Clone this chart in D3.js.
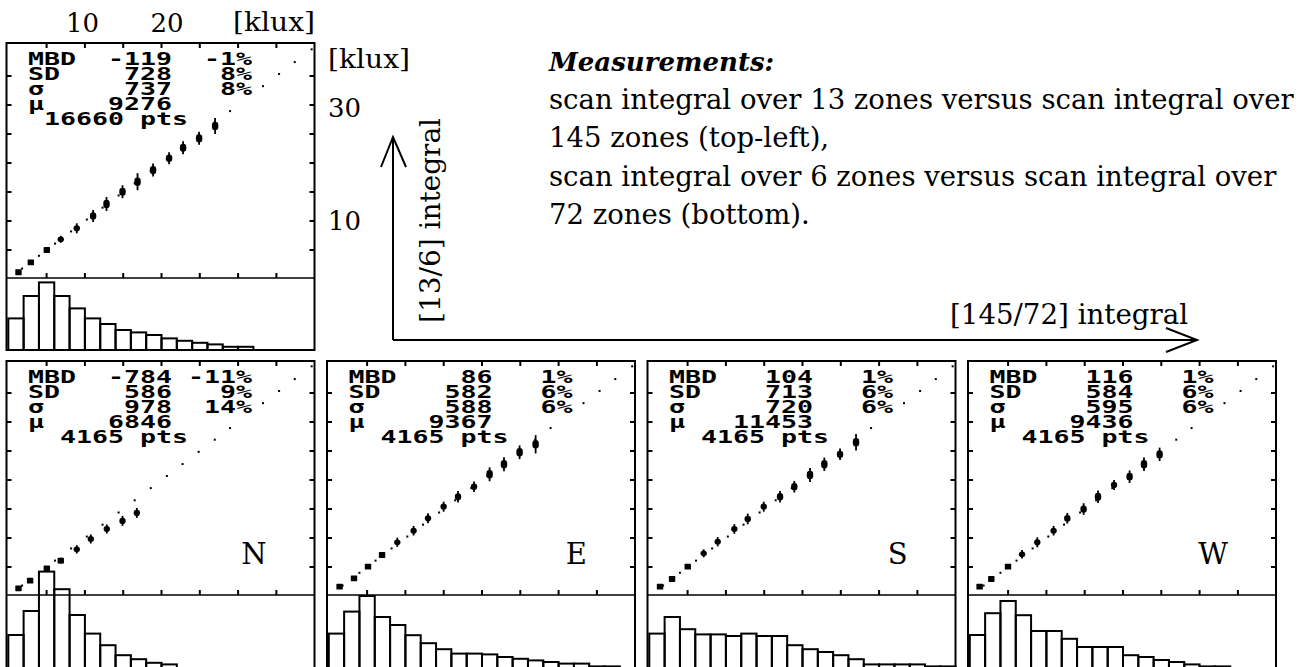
<!DOCTYPE html>
<html><head><meta charset="utf-8">
<script src="https://cdn.jsdelivr.net/npm/d3@7"></script>
<style>body{margin:0;background:#fff;} svg{display:block;}</style>
</head><body>
<svg id="chart" width="1305" height="667"></svg>
<script>
// ---------- data ----------
const panelNames = ["top-left", "N", "E", "S", "W"];
const dirLabels  = ["", "N", "E", "S", "W"];

const mbdVal   = ["-119", "-784", "86", "104", "116"];
const mbdPct   = ["-1%", "-11%", "1%", "1%", "1%"];
const sdVal    = ["728", "586", "582", "713", "584"];
const sdPct    = ["8%", "9%", "6%", "6%", "6%"];
const sigmaVal = ["737", "978", "588", "720", "595"];
const sigmaPct = ["8%", "14%", "6%", "6%", "6%"];
const muVal    = ["9276", "6846", "9367", "11453", "9436"];
const nPts     = ["16660", "4165", "4165", "4165", "4165"];

// binned means (klux): x = mean of [145/72] integral, y = mean of [13/6] integral, err = spread
const meanX = [
  [1.33, 2.94, 5.03, 6.85, 8.94, 11.07, 12.82, 14.91, 16.87, 18.9, 20.99, 22.82, 24.91, 27.0],
  [1.33, 2.85, 5.03, 6.85, 8.94, 10.77, 12.86, 14.91, 16.78],
  [1.41, 3.29, 5.12, 6.95, 8.94, 11.07, 12.95, 14.99, 16.87, 18.96, 20.99, 22.87, 24.91, 27.0],
  [1.4, 2.97, 5.02, 7.1, 8.93, 11.1, 12.85, 14.94, 17.07, 18.93, 20.98, 22.85, 24.9, 26.99],
  [1.28, 2.81, 4.99, 6.82, 8.81, 10.94, 12.73, 14.86, 16.74, 18.83, 20.86, 22.74, 24.78]
];
const meanY = [
  [1.16, 2.88, 5.0, 6.84, 8.74, 10.86, 12.93, 15.05, 16.78, 18.79, 20.81, 22.64, 24.26, 26.38],
  [1.33, 2.64, 4.78, 6.09, 8.05, 9.83, 11.55, 12.95, 14.33],
  [1.6, 3.05, 5.05, 7.07, 9.26, 11.26, 13.4, 15.4, 17.12, 18.84, 20.98, 22.71, 24.78, 26.16],
  [1.6, 2.93, 5.05, 7.36, 9.36, 11.55, 13.28, 15.4, 17.12, 18.84, 20.86, 22.71, 24.43, 26.5],
  [1.6, 2.93, 5.05, 7.19, 9.26, 11.26, 13.4, 15.0, 17.12, 19.14, 20.57, 22.71, 24.43]
];
const errY = [
  [0.47, 0.47, 0.52, 0.6, 0.86, 1.03, 1.2, 1.12, 1.47, 1.12, 1.03, 1.12, 1.12, 1.38],
  [0.47, 0.47, 0.47, 0.52, 0.72, 0.78, 0.78, 0.86, 0.86],
  [0.47, 0.47, 0.47, 0.52, 0.8, 0.83, 0.86, 0.86, 0.98, 0.92, 1.2, 1.2, 1.18, 1.58],
  [0.47, 0.47, 0.47, 0.69, 0.8, 0.83, 0.92, 0.86, 1.0, 1.0, 1.2, 1.15, 1.0, 1.43],
  [0.47, 0.47, 0.47, 0.72, 0.86, 0.83, 0.92, 1.0, 1.09, 0.86, 1.07, 1.15, 1.15]
];
// dotted 1:1 reference (klux)
const refDots = [1.8, 4.0, 6.1, 8.2, 10.25, 12.3, 14.4, 16.5, 18.6, 20.7, 22.75, 24.85, 26.95, 28.95, 33.25, 35.35, 37.4, 39.6];

// histograms: % of points per 2 klux bin (0-40 klux)
const binEdges = d3.range(0, 42, 2);
const histPct = [
  [7.9, 13.5, 16.9, 13.5, 10.4, 7.9, 6.5, 5.0, 4.4, 3.75, 2.9, 2.3, 1.8, 1.4, 0.8, 0.8, 0, 0, 0, 0],
  [8.25, 14.25, 24.1, 19.7, 13.25, 8.6, 5.7, 3.2, 2.2, 1.3, 0.9, 0, 0, 0, 0, 0, 0, 0, 0, 0],
  [8.6, 14.1, 18.0, 12.75, 10.75, 8.2, 6.2, 4.7, 3.6, 3.6, 3.4, 2.75, 2.3, 1.9, 1.5, 1.1, 1.1, 0.4, 0.4, 0],
  [8.6, 12.75, 9.7, 8.4, 8.4, 8.0, 8.6, 8.0, 8.0, 5.7, 4.7, 4.0, 3.2, 2.2, 0.9, 0.9, 0.9, 0.9, 0.4, 0.4],
  [8.25, 13.7, 16.75, 13.2, 9.25, 9.25, 7.3, 5.25, 5.25, 5.25, 3.2, 2.75, 2.0, 1.5, 0.9, 0.4, 0.4, 0, 0, 0]
];
const axisTicks = [5, 10, 15, 20, 25, 30, 35];

// ---------- layout ----------
const panels = [
  {L: 6.5, T: 43, S: 278, B: 350},
  {L: 6.5, T: 361, S: 595, B: 668},
  {L: 327, T: 361, S: 595, B: 668},
  {L: 647.5, T: 361, S: 595, B: 668},
  {L: 968, T: 361, S: 595, B: 668}
];
const PW = 308;

const svg = d3.select("#chart");
const serif = "'DejaVu Serif', serif";
const mono = "'DejaVu Sans Mono', monospace";

panels.forEach((p, i) => {
  const g = svg.append("g");
  const x = d3.scaleLinear().domain([0, 40]).range([p.L + 1.8, p.L + 308.2]);
  const y = d3.scaleLinear().domain([0, 40]).range([p.S + 1, p.S + 1 - 232]);
  const h = d3.scaleLinear().domain([0, 18]).range([p.B, p.B - 72]);

  // histogram bars
  const bins = histPct[i].map((v, k) => ({x0: binEdges[k], x1: binEdges[k + 1], v}));
  g.selectAll("rect.bar").data(bins).join("rect")
    .attr("x", d => x(d.x0)).attr("width", d => x(d.x1) - x(d.x0))
    .attr("y", d => h(d.v)).attr("height", d => p.B - h(d.v))
    .attr("fill", "none").attr("stroke", "#000").attr("stroke-width", 2);

  // frame
  g.append("rect").attr("x", p.L).attr("y", p.T).attr("width", PW).attr("height", p.B - p.T)
    .attr("fill", "none").attr("stroke", "#000").attr("stroke-width", 2);
  g.append("line").attr("x1", p.L).attr("x2", p.L + PW).attr("y1", p.S).attr("y2", p.S)
    .attr("stroke", "#000").attr("stroke-width", 1.6);

  // ticks
  const tk = g.append("g").attr("stroke", "#000").attr("stroke-width", 2);
  axisTicks.forEach(t => {
    tk.append("line").attr("x1", x(t)).attr("x2", x(t)).attr("y1", p.T).attr("y2", p.T + 5);
    tk.append("line").attr("x1", x(t)).attr("x2", x(t)).attr("y1", p.S).attr("y2", p.S - 5);
    tk.append("line").attr("x1", p.L).attr("x2", p.L + 5).attr("y1", y(t)).attr("y2", y(t));
    tk.append("line").attr("x1", p.L + PW).attr("x2", p.L + PW - 5).attr("y1", y(t)).attr("y2", y(t));
  });

  // reference dots (1:1)
  g.selectAll("rect.dot").data(refDots).join("rect")
    .attr("x", d => x(d) - 1).attr("y", d => y(d) - 1).attr("width", 2).attr("height", 2)
    .attr("fill", "#000");

  // binned means with spread
  const pts = meanX[i].map((mx, k) => ({mx, my: meanY[i][k], e: errY[i][k]}));
  pts.forEach(d => {
    const ePx = d.e * 5.8;
    const bh = Math.max(5.8, Math.min(8.5, ePx * 1.25));
    if (ePx > bh / 2) {
      g.append("line").attr("x1", x(d.mx)).attr("x2", x(d.mx))
        .attr("y1", y(d.my - d.e)).attr("y2", y(d.my + d.e))
        .attr("stroke", "#000").attr("stroke-width", 1.8);
    }
    g.append("rect").attr("x", x(d.mx) - 3.2).attr("y", y(d.my) - bh / 2)
      .attr("width", 6.4).attr("height", bh).attr("rx", ePx > 3.3 ? 3.2 : 0.6)
      .attr("fill", "#000");
  });

  // statistics text
  const lines = [
    "MBD" + mbdVal[i].padStart(6) + mbdPct[i].padStart(5),
    "SD " + sdVal[i].padStart(6) + sdPct[i].padStart(5),
    "σ  " + sigmaVal[i].padStart(6) + sigmaPct[i].padStart(5),
    "μ  " + muVal[i].padStart(6),
    (nPts[i] + " pts").padStart(10)
  ];
  lines.forEach((s, k) => {
    g.append("text").attr("x", p.L + 21.5).attr("y", p.T + 22 + 15 * k)
      .attr("font-family", mono).attr("font-weight", "bold").attr("font-size", 17)
      .style("white-space", "pre")
      .attr("textLength", s.length * 16).attr("lengthAdjust", "spacingAndGlyphs")
      .text(s);
  });

  if (dirLabels[i]) {
    g.append("text").attr("x", p.L + 260).attr("y", p.T + 203)
      .attr("text-anchor", "end").attr("font-family", serif).attr("font-size", 29)
      .text(dirLabels[i]);
  }
});

// ---------- axis labels / annotations ----------
const ann = svg.append("g").attr("font-family", serif).attr("fill", "#000");
ann.append("text").attr("x", 82.5).attr("y", 31.5).attr("text-anchor", "middle").attr("font-size", 26).text("10");
ann.append("text").attr("x", 167).attr("y", 31.5).attr("text-anchor", "middle").attr("font-size", 26).text("20");
ann.append("text").attr("x", 233).attr("y", 31).attr("font-size", 26).attr("textLength", 82).attr("lengthAdjust", "spacingAndGlyphs").text("[klux]");
ann.append("text").attr("x", 328).attr("y", 68).attr("font-size", 26).attr("textLength", 82).attr("lengthAdjust", "spacingAndGlyphs").text("[klux]");
ann.append("text").attr("x", 328).attr("y", 117).attr("font-size", 26).text("30");
ann.append("text").attr("x", 328).attr("y", 230).attr("font-size", 26).text("10");

ann.append("text").attr("x", 549).attr("y", 70.5).attr("font-size", 26)
  .attr("font-weight", "bold").attr("font-style", "italic").text("Measurements:");
const noteLines = [
  "scan integral over 13 zones versus scan integral over",
  "145 zones (top-left),",
  "scan integral over 6 zones versus scan integral over",
  "72 zones (bottom)."
];
noteLines.forEach((s, k) => {
  ann.append("text").attr("x", 549).attr("y", 109 + 38.4 * k).attr("font-size", 27.5).text(s);
});

// arrows
const arr = svg.append("g").attr("fill", "none").attr("stroke", "#000").attr("stroke-width", 2);
arr.append("path").attr("d", "M393,340 L393,137 M381,167 L393,137 L406,167");
arr.append("path").attr("d", "M393,340 L1197,340 M1166,328 L1197,340 L1166,352");

ann.append("text").attr("transform", "translate(440,323) rotate(-90)")
  .attr("font-size", 27).attr("textLength", 205).attr("lengthAdjust", "spacingAndGlyphs")
  .text("[13/6] integral");
ann.append("text").attr("x", 950).attr("y", 324).attr("font-size", 27)
  .attr("textLength", 238).attr("lengthAdjust", "spacingAndGlyphs").text("[145/72] integral");
</script>
</body></html>
